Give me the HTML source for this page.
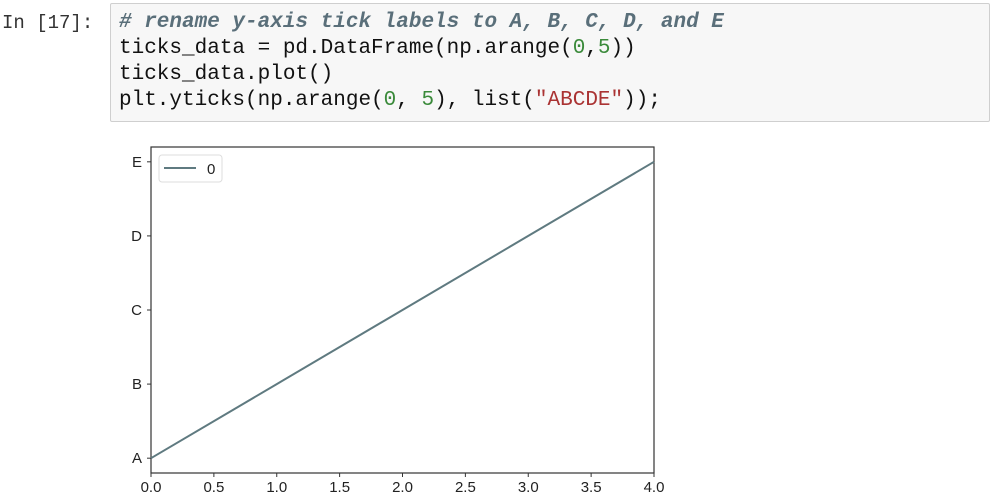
<!DOCTYPE html>
<html><head><meta charset="utf-8"><style>
body{margin:0;width:992px;height:501px;background:#fff;position:relative;overflow:hidden;font-family:"Liberation Sans",sans-serif}
.prompt{position:absolute;left:2px;top:12px;font:19px "Liberation Mono",monospace;color:#333}
.cell{position:absolute;left:110px;top:3px;width:880px;height:119px;border:1px solid #cfcfcf;background:#f7f7f7;border-radius:2px;box-sizing:border-box}
.code{position:absolute;left:8px;top:6px;font:21px/26px "Liberation Mono",monospace;color:#111;white-space:pre}
.cm{color:#5a6f7a;font-style:italic;font-weight:bold}
.num{color:#3a8a3a}
.str{color:#a33}
</style></head><body>
<div class="prompt">In [17]:</div>
<div class="cell"><div class="code"><span class="cm"># rename y-axis tick labels to A, B, C, D, and E</span>
ticks_data = pd.DataFrame(np.arange(<span class="num">0</span>,<span class="num">5</span>))
ticks_data.plot()
plt.yticks(np.arange(<span class="num">0</span>, <span class="num">5</span>), list(<span class="str">"ABCDE"</span>));</div></div>
<svg id="chart" width="992" height="501" style="position:absolute;left:0;top:0"></svg>
<script>
const xValues=[0,1,2,3,4];
const yValues=[0,1,2,3,4];
const xTicks=[0,0.5,1,1.5,2,2.5,3,3.5,4];
const yTickVals=[0,1,2,3,4];
const yTickLabels=["A","B","C","D","E"];
const seriesName="0";
const svg=document.getElementById('chart');
const NS='http://www.w3.org/2000/svg';
const L=151,R=654,T=147,B=473;
const xmin=0,xmax=4,ymin=-0.2,ymax=4.2;
const sx=v=>L+(v-xmin)/(xmax-xmin)*(R-L);
const sy=v=>B-(v-ymin)/(ymax-ymin)*(B-T);
function mk(tag,attrs,parent){const e=document.createElementNS(NS,tag);for(const k in attrs)e.setAttribute(k,attrs[k]);(parent||svg).appendChild(e);return e;}
const frame=mk('rect',{x:L,y:T,width:R-L,height:B-T,fill:'#fff',stroke:'#333','stroke-width':1.2});


xTicks.forEach(v=>{
  const t=mk('line',{x1:sx(v),x2:sx(v),y1:B,y2:B+4,stroke:'#333'});
  
  
  const tx=mk('text',{x:sx(v),y:B+19,'text-anchor':'middle','font-size':15,fill:'#222','font-family':'Liberation Sans, sans-serif'});
  tx.textContent=v.toFixed(1);
  
  
});
yTickVals.forEach((v,i)=>{
  const t=mk('line',{x1:L-4,x2:L,y1:sy(v),y2:sy(v),stroke:'#333'});
  
  
  const tx=mk('text',{x:L-9,y:sy(v)+5,'text-anchor':'end','font-size':15,fill:'#222','font-family':'Liberation Sans, sans-serif'});
  tx.textContent=yTickLabels[i];
  
  
});
const pts=xValues.map((x,i)=>sx(x)+','+sy(yValues[i])).join(' ');
const line=mk('polyline',{points:pts,fill:'none',stroke:'#5f7a80','stroke-width':2});


const lg=mk('g',{});


mk('rect',{x:159,y:155,width:63,height:27,rx:3,fill:'#fff',stroke:'#ddd'},lg);
const ll=mk('line',{x1:164,x2:196,y1:168,y2:168,stroke:'#5f7a80','stroke-width':2},lg);


const lt=mk('text',{x:207,y:174,'font-size':15,fill:'#222','font-family':'Liberation Sans, sans-serif'},lg);
lt.textContent=seriesName;


</script>
</body></html>
